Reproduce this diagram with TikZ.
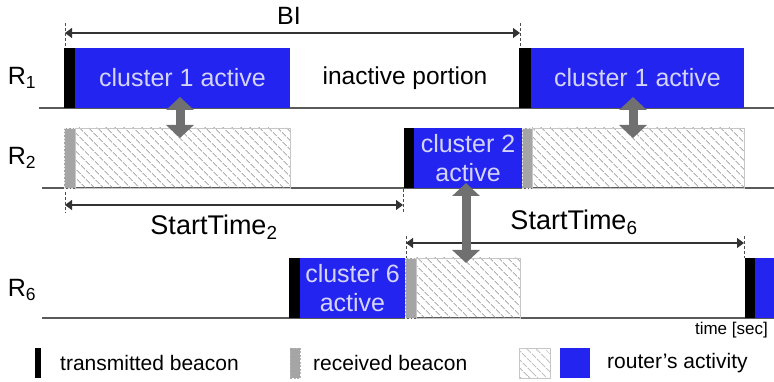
\documentclass[tikz,border=0pt]{standalone}
\usepackage{fontspec}
\setmainfont{Liberation Sans}
\usetikzlibrary{arrows.meta,patterns.meta,calc}
\definecolor{rblue}{RGB}{36,36,240}
\definecolor{rtext}{RGB}{212,212,250}
\definecolor{agray}{RGB}{112,112,112}
\definecolor{lgray}{RGB}{165,165,165}
\definecolor{axis}{RGB}{90,90,90}
\begin{document}
\begin{tikzpicture}[x=1pt,y=-1pt,
  box/.style={anchor=north west, inner sep=0pt, outer sep=0pt, minimum height=60pt},
  act/.style={box, fill=rblue, text=rtext, font=\fontsize{25}{29}\selectfont, align=center},
  txb/.style={box, fill=black},
  rxb/.style={box, fill=lgray, draw=white!85!gray, dashed, dash pattern=on 2pt off 1.5pt, line width=0.6pt},
  hat/.style={box, draw=gray!45, line width=0.6pt, pattern={Lines[angle=-45,distance=6.4pt,line width=0.7pt]}, pattern color=gray!90},
  base/.style={draw=axis, line width=1.2pt},
  dim/.style={draw=black!80, line width=1.1pt, {Triangle[length=7pt,width=10pt]}-{Triangle[length=7pt,width=10pt]}},
  vdash/.style={draw=black!70, line width=0.9pt, dash pattern=on 3pt off 2pt},
  bigarrow/.style={draw=agray, line width=9pt, {Triangle[length=13pt,width=27pt]}-{Triangle[length=13pt,width=27pt]}},
  lab/.style={font=\fontsize{25}{29}\selectfont, inner sep=0pt},
  leg/.style={font=\fontsize{21}{25}\selectfont, inner sep=0pt, anchor=west},
]
\useasboundingbox (0,0) rectangle (774,382);

% baselines
\coordinate (b1s) at (39,108); \coordinate (b1e) at (774,108);
\coordinate (b2s) at (42,188); \coordinate (b2e) at (774,188);
\coordinate (b6s) at (42,318); \coordinate (b6e) at (774,318);
\draw[base] (b1s) -- (b1e);
\draw[base] (b2s) -- (b2e);
\draw[base] (b6s) -- (b6e);

% row labels
\node[lab] (r1) at (22,78) {R\textsubscript{1}};
\node[lab] (r2) at (22,158) {R\textsubscript{2}};
\node[lab] (r6) at (22,290) {R\textsubscript{6}};

% R1 row
\node[txb, minimum width=11pt] (t1a) at (64,48) {};
\node[act, minimum width=215pt] (c1a) at (75,48) {cluster 1 active};
\node[lab, font=\fontsize{24.5}{29}\selectfont] (inact) at (405,78) {inactive portion};
\node[txb, minimum width=12pt] (t1b) at (519,48) {};
\node[act, minimum width=213pt] (c1b) at (531,48) {cluster 1 active};

% R2 row
\node[rxb, minimum width=11pt] (x2a) at (64,128) {};
\node[hat, minimum width=215pt] (h2a) at (75,128) {};
\node[txb, minimum width=10pt] (t2) at (404,128) {};
\node[act, minimum width=108pt] (c2) at (414,128) {cluster 2\\active};
\node[rxb, minimum width=10pt] (x2b) at (522,128) {};
\node[hat, minimum width=212pt] (h2b) at (532,128) {};

% R6 row
\node[txb, minimum width=11pt] (t6a) at (289,258) {};
\node[act, minimum width=105pt] (c6) at (300,258) {cluster 6\\active};
\node[rxb, minimum width=11pt] (x6) at (405,258) {};
\node[hat, minimum width=104pt] (h6) at (416,258) {};
\node[txb, minimum width=10pt] (t6b) at (745,258) {};
\node[box, fill=rblue, minimum width=19pt] (c6b) at (755,258) {};

% BI dimension
\coordinate (bi1) at (65,33); \coordinate (bi2) at (520,33);
\draw[vdash] (65,23) -- (t1a.north west -| bi1);
\draw[vdash] (520,23) -- (t1b.north west -| bi2);
\draw[dim] (bi1) -- (bi2);
\node[lab] (bil) at (289,16) {BI};

% StartTime2
\coordinate (s21) at (65,205); \coordinate (s22) at (403,205);
\draw[vdash] (65,192) -- (65,213);
\draw[vdash] (403,189) -- (403,213);
\draw[dim] (s21) -- (s22);
\node[lab, font=\fontsize{27}{31}\selectfont] (s2l) at (214,227) {StartTime\textsubscript{2}};

% StartTime6
\coordinate (s61) at (406,243); \coordinate (s62) at (744,243);
\draw[vdash] (406,236) -- (406,258);
\draw[vdash] (744,236) -- (744,258);
\draw[dim] (s61) -- (s62);
\node[lab, font=\fontsize{27}{31}\selectfont] (s6l) at (574,222) {StartTime\textsubscript{6}};

% big arrows
\coordinate (a1t) at (180,97); \coordinate (a1b) at (180,138);
\coordinate (a2t) at (633,97); \coordinate (a2b) at (633,138);
\coordinate (a3t) at (466,183); \coordinate (a3b) at (466,263);
\draw[bigarrow] (a1t) -- (a1b);
\draw[bigarrow] (a2t) -- (a2b);
\draw[bigarrow] (a3t) -- (a3b);

% time label
\node[font=\fontsize{17}{20}\selectfont, inner sep=0pt, anchor=east] (tl) at (768,330) {time [sec]};

% legend
\node[txb, minimum width=6pt, minimum height=30pt] (lg1) at (35,348) {};
\node[leg] (lg1t) at (60,363) {transmitted beacon};
\node[box, fill=lgray, draw=gray!60, dashed, dash pattern=on 2pt off 1.5pt, line width=0.6pt, minimum width=10pt, minimum height=30pt] (lg2) at (290,348) {};
\node[leg] (lg2t) at (313,363) {received beacon};
\node[hat, minimum width=31pt, minimum height=30pt] (lg3) at (519,348) {};
\node[box, fill=rblue, minimum width=30pt, minimum height=30pt] (lg4) at (560,348) {};
\node[leg] (lg4t) at (607,363) {router’s activity};
\end{tikzpicture}
\end{document}
